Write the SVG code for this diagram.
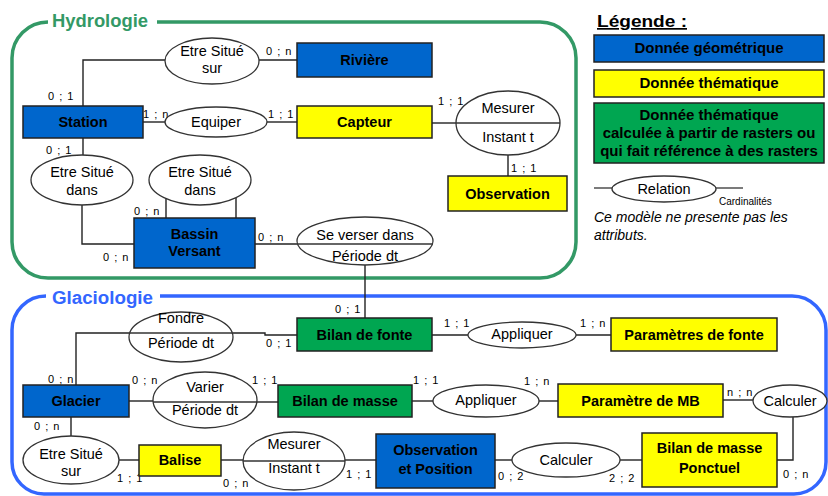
<svg xmlns="http://www.w3.org/2000/svg" width="828" height="496" viewBox="0 0 828 496">
<style>
text{font-family:"Liberation Sans",Arial,sans-serif;fill:#000}
.box{stroke:#222;stroke-width:1.5}
.blue{fill:#0066CC}
.yel{fill:#FFFF00}
.grn{fill:#00A651}
.nt{font-size:14.5px;font-weight:bold;text-anchor:middle}
.rel{fill:#fff;stroke:#333;stroke-width:1.3}
.div{stroke:#333;stroke-width:1.3}
.rt{font-size:14.5px;text-anchor:middle}
.card{font-size:11px;letter-spacing:1px}
.conn path{fill:none;stroke:#222;stroke-width:1.4}
.frame{fill:none;stroke-width:3.5}
</style>

<!-- Frames -->
<g id="frame-hydrologie">
<path class="frame" stroke="#339966" d="M157,22 H540 A36,36 0 0 1 576,58 V242 A36,36 0 0 1 540,278 H48 A36,36 0 0 1 12,242 V58 A36,36 0 0 1 48,22"/>
<text x="52" y="27" font-size="18" font-weight="bold" fill="#339966" style="fill:#339966" textLength="96" lengthAdjust="spacingAndGlyphs">Hydrologie</text>
</g>
<g id="frame-glaciologie">
<path class="frame" stroke="#3366FF" d="M160,296 H792 A34,34 0 0 1 826,330 V462 A32,32 0 0 1 794,494 H44 A32,32 0 0 1 12,462 V330 A34,34 0 0 1 46,296"/>
<text x="52" y="304" font-size="18" font-weight="bold" style="fill:#3366FF" textLength="101" lengthAdjust="spacingAndGlyphs">Glaciologie</text>
</g>

<!-- Connectors -->
<g id="connectors" class="conn">
<path d="M83,106 V60 H165"/>
<path d="M259,60 H297"/>
<path d="M143,122 H165"/>
<path d="M267,122 H297"/>
<path d="M432,123 H456"/>
<path d="M508,155 V176"/>
<path d="M83,138 V155"/>
<path d="M82,205 V244 H134"/>
<path d="M166,198 V218"/>
<path d="M236,198 V218"/>
<path d="M255,244 H297"/>
<path d="M365,265 V318"/>
<path d="M76,385 V333 H129"/>
<path d="M233,333 H265 V335 H297"/>
<path d="M432,335 H468"/>
<path d="M576,335 H611"/>
<path d="M129,401 H153"/>
<path d="M257,402 H278"/>
<path d="M412,401 H433"/>
<path d="M539,401 H558"/>
<path d="M723,400 H753"/>
<path d="M793,417 V460 H777"/>
<path d="M71,417 V436"/>
<path d="M119,460 H139"/>
<path d="M221,460 H243"/>
<path d="M345,460 H376"/>
<path d="M495,460 H512"/>
<path d="M620,460 H642"/>
</g>

<!-- Cardinalities -->
<g id="cardinalities">
<text class="card" x="48" y="100">0 ; 1</text>
<text class="card" x="266" y="55">0 ; n</text>
<text class="card" x="143" y="118">1 ; n</text>
<text class="card" x="268" y="118">1 ; 1</text>
<text class="card" x="438" y="105">1 ; 1</text>
<text class="card" x="511" y="172">1 ; 1</text>
<text class="card" x="46" y="154">0 ; 1</text>
<text class="card" x="103" y="261">0 ; n</text>
<text class="card" x="134" y="215">0 ; n</text>
<text class="card" x="258" y="241">0 ; n</text>
<text class="card" x="335" y="313">0 ; 1</text>
<text class="card" x="48" y="383">0 ; n</text>
<text class="card" x="266" y="347">0 ; 1</text>
<text class="card" x="444" y="327">1 ; 1</text>
<text class="card" x="580" y="327">1 ; n</text>
<text class="card" x="132" y="384">0 ; n</text>
<text class="card" x="252" y="384">1 ; 1</text>
<text class="card" x="413" y="384">1 ; 1</text>
<text class="card" x="524" y="385">1 ; n</text>
<text class="card" x="727" y="396">n ; n</text>
<text class="card" x="783" y="478">0 ; n</text>
<text class="card" x="34" y="430">0 ; n</text>
<text class="card" x="117" y="482">1 ; 1</text>
<text class="card" x="223" y="487">0 ; n</text>
<text class="card" x="346" y="478">1 ; 1</text>
<text class="card" x="498" y="480">0 ; 2</text>
<text class="card" x="609" y="482">2 ; 2</text>
</g>

<!-- Hydrologie nodes -->
<g id="riviere"><rect class="box blue" x="297" y="43" width="135" height="34"/><text class="nt" x="364.5" y="65">Rivière</text></g>
<g id="station"><rect class="box blue" x="23" y="106" width="120" height="32"/><text class="nt" x="83" y="127">Station</text></g>
<g id="capteur"><rect class="box yel" x="297" y="106" width="135" height="32"/><text class="nt" x="364.5" y="127">Capteur</text></g>
<g id="observation"><rect class="box yel" x="448" y="176" width="119" height="35"/><text class="nt" x="507.5" y="199">Observation</text></g>
<g id="bassin-versant"><rect class="box blue" x="134" y="218" width="121" height="50"/><text class="nt" x="194.5" y="239">Bassin</text><text class="nt" x="194.5" y="256">Versant</text></g>

<g id="rel-situe-sur-riviere"><ellipse class="rel" cx="212" cy="61" rx="47" ry="23"/><text class="rt" x="212" y="56">Etre Situé</text><text class="rt" x="212" y="73">sur</text></g>
<g id="rel-equiper"><ellipse class="rel" cx="216" cy="122" rx="51" ry="15"/><text class="rt" x="216" y="127">Equiper</text></g>
<g id="rel-mesurer-h"><ellipse class="rel" cx="508" cy="123" rx="52" ry="32"/><line class="div" x1="456" y1="123" x2="560" y2="123"/><text class="rt" x="508" y="113">Mesurer</text><text class="rt" x="508" y="142">Instant t</text></g>
<g id="rel-situe-dans-1"><ellipse class="rel" cx="82" cy="180" rx="51" ry="25"/><text class="rt" x="82" y="177">Etre Situé</text><text class="rt" x="82" y="195">dans</text></g>
<g id="rel-situe-dans-2"><ellipse class="rel" cx="200" cy="180" rx="51" ry="25"/><text class="rt" x="200" y="177">Etre Situé</text><text class="rt" x="200" y="195">dans</text></g>
<g id="rel-verser"><ellipse class="rel" cx="365" cy="241" rx="68" ry="24"/><line class="div" x1="297.5" y1="244" x2="432.5" y2="244"/><text class="rt" x="365" y="240">Se verser dans</text><text class="rt" x="365" y="261">Période dt</text></g>

<!-- Glaciologie nodes -->
<g id="bilan-fonte"><rect class="box grn" x="297" y="318" width="135" height="33"/><text class="nt" x="364.5" y="340">Bilan de fonte</text></g>
<g id="parametres-fonte"><rect class="box yel" x="611" y="318" width="166" height="33"/><text class="nt" x="694" y="340">Paramètres de fonte</text></g>
<g id="glacier"><rect class="box blue" x="23" y="385" width="106" height="32"/><text class="nt" x="76" y="406">Glacier</text></g>
<g id="bilan-masse"><rect class="box grn" x="278" y="385" width="134" height="32"/><text class="nt" x="345" y="406">Bilan de masse</text></g>
<g id="parametre-mb"><rect class="box yel" x="558" y="384" width="165" height="33"/><text class="nt" x="640.5" y="406">Paramètre de MB</text></g>
<g id="balise"><rect class="box yel" x="139" y="445" width="82" height="31"/><text class="nt" x="180" y="465">Balise</text></g>
<g id="observation-position"><rect class="box blue" x="376" y="434" width="119" height="54"/><text class="nt" x="435.5" y="455">Observation</text><text class="nt" x="435.5" y="474">et Position</text></g>
<g id="bilan-masse-ponctuel"><rect class="box yel" x="642" y="433" width="135" height="54"/><text class="nt" x="709.5" y="453">Bilan de masse</text><text class="nt" x="709.5" y="473">Ponctuel</text></g>

<g id="rel-fondre"><ellipse class="rel" cx="181" cy="337" rx="52" ry="25"/><line class="div" x1="129.7" y1="333" x2="232.3" y2="333"/><text class="rt" x="181" y="323">Fondre</text><text class="rt" x="181" y="348">Période dt</text></g>
<g id="rel-varier"><ellipse class="rel" cx="205" cy="400" rx="52" ry="28"/><line class="div" x1="153.2" y1="402" x2="256.8" y2="402"/><text class="rt" x="205" y="392">Varier</text><text class="rt" x="205" y="415">Période dt</text></g>
<g id="rel-appliquer-1"><ellipse class="rel" cx="522" cy="335" rx="54" ry="13"/><text class="rt" x="522" y="339">Appliquer</text></g>
<g id="rel-appliquer-2"><ellipse class="rel" cx="486" cy="401" rx="53" ry="16"/><text class="rt" x="486" y="405">Appliquer</text></g>
<g id="rel-calculer-1"><ellipse class="rel" cx="790" cy="401" rx="37" ry="16"/><text class="rt" x="790" y="406">Calculer</text></g>
<g id="rel-situe-sur-g"><ellipse class="rel" cx="71" cy="460" rx="48" ry="24"/><text class="rt" x="71" y="459">Etre Situé</text><text class="rt" x="71" y="476">sur</text></g>
<g id="rel-mesurer-g"><ellipse class="rel" cx="294" cy="461" rx="51" ry="29"/><line class="div" x1="243" y1="461" x2="345" y2="461"/><text class="rt" x="294" y="449">Mesurer</text><text class="rt" x="294" y="473">Instant t</text></g>
<g id="rel-calculer-2"><ellipse class="rel" cx="566" cy="460" rx="54" ry="17"/><text class="rt" x="566" y="465">Calculer</text></g>

<!-- Legend -->
<g id="legend">
<text x="597" y="27" font-size="17" font-weight="bold" text-decoration="underline" textLength="90" lengthAdjust="spacingAndGlyphs">Légende :</text>
<rect class="box blue" x="594" y="35" width="230" height="27"/>
<text class="nt" x="709" y="53" style="font-size:15px">Donnée géométrique</text>
<rect class="box yel" x="594" y="70" width="230" height="27"/>
<text class="nt" x="709" y="88" style="font-size:15px">Donnée thématique</text>
<rect class="box grn" x="594" y="103" width="230" height="60"/>
<text class="nt" x="709" y="120" style="font-size:15px">Donnée thématique</text>
<text class="nt" x="709" y="138" style="font-size:15px">calculée à partir de rasters ou</text>
<text class="nt" x="709" y="156" style="font-size:15px">qui fait référence à des rasters</text>
<line class="div" x1="594" y1="188" x2="612" y2="188"/>
<line class="div" x1="716" y1="188" x2="743" y2="188"/>
<ellipse class="rel" cx="664" cy="189" rx="52" ry="13"/>
<text class="rt" x="664" y="194">Relation</text>
<text x="719" y="205" font-size="10">Cardinalités</text>
<text x="594" y="222" font-size="14" font-style="italic">Ce modèle ne presente pas les</text>
<text x="594" y="240" font-size="14" font-style="italic">attributs.</text>
</g>
</svg>
